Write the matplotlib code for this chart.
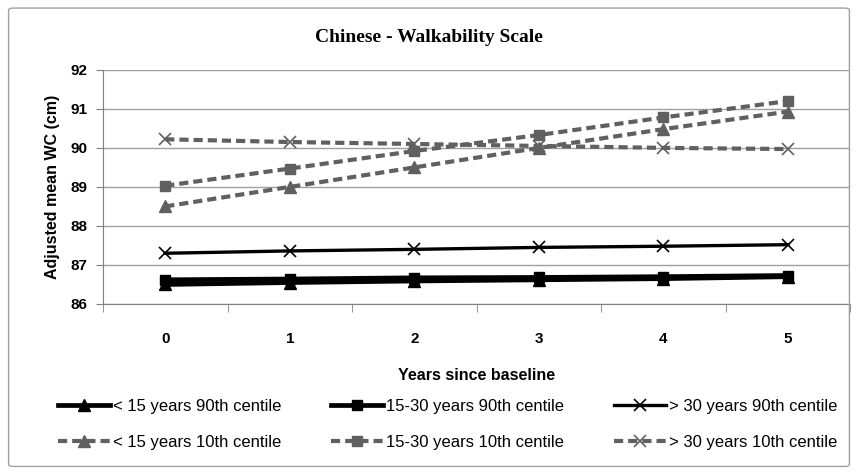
import matplotlib
matplotlib.use("Agg")
import matplotlib.pyplot as plt
from matplotlib.patches import FancyBboxPatch

years = [0, 1, 2, 3, 4, 5]
labels = ["< 15 years 90th centile", "15-30 years 90th centile", "> 30 years 90th centile",
          "< 15 years 10th centile", "15-30 years 10th centile", "> 30 years 10th centile"]
lt15_90 = [86.50, 86.55, 86.59, 86.62, 86.65, 86.70]
m1530_90 = [86.62, 86.64, 86.67, 86.68, 86.70, 86.73]
gt30_90 = [87.30, 87.36, 87.40, 87.45, 87.48, 87.52]
lt15_10 = [88.50, 89.00, 89.50, 90.00, 90.48, 90.93]
m1530_10 = [89.03, 89.47, 89.92, 90.33, 90.78, 91.20]
gt30_10 = [90.22, 90.15, 90.10, 90.05, 90.00, 89.97]
series = [lt15_90, m1530_90, gt30_90, lt15_10, m1530_10, gt30_10]

fig = plt.figure(figsize=(8.58, 4.75), dpi=100)
fig.patches.append(FancyBboxPatch((0.010, 0.018), 0.980, 0.965, boxstyle="round,pad=0,rounding_size=0.005",
                                  transform=fig.transFigure, fill=False, edgecolor="#a0a0a0", lw=1.0))
ax = fig.add_axes([0.120, 0.360, 0.871, 0.493])

black = "#000000"
grey = "#606060"
styles = [
    dict(color=black, ls="-", marker="^", ms=8, lw=3.4),
    dict(color=black, ls="-", marker="s", ms=7, lw=3.4),
    dict(color=black, ls="-", marker="x", ms=9, lw=2.4, mew=1.2),
    dict(color=grey, ls=(0, (2.2, 1.2)), marker="^", ms=8, lw=3.0),
    dict(color=grey, ls=(0, (2.2, 1.2)), marker="s", ms=7, lw=3.0),
    dict(color=grey, ls=(0, (2.2, 1.2)), marker="x", ms=9, lw=3.0, mew=1.2),
]
handles = []
for s, lab, st in zip(series, labels, styles):
    h, = ax.plot(years, s, label=lab, zorder=3, **st)
    handles.append(h)

ax.set_xlim(-0.5, 5.5)
ax.set_ylim(86, 92)
ax.set_yticks([86, 87, 88, 89, 90, 91, 92])
ax.yaxis.grid(True, color="#a0a0a0", lw=1.0)
ax.set_axisbelow(True)
ax.set_xticks(years)
ax.set_xticks([x - 0.5 for x in range(7)], minor=True)
ax.tick_params(axis="x", which="major", length=0, pad=20)
ax.tick_params(axis="x", which="minor", length=6, color="#808080", direction="out")
ax.tick_params(axis="y", length=5, color="#808080", pad=6)
for sp in ["top", "right"]:
    ax.spines[sp].set_visible(False)
for sp in ["left", "bottom"]:
    ax.spines[sp].set_color("#808080")
tickfont = dict(family="Liberation Sans", weight="bold", size=11)
for t in ax.get_xticklabels() + ax.get_yticklabels():
    t.set_fontproperties(matplotlib.font_manager.FontProperties(**tickfont))
ax.set_xlabel("Years since baseline", family="Liberation Sans", weight="bold", size=11.5, labelpad=16)
ax.set_ylabel("Adjusted mean WC (cm)", family="Liberation Sans", weight="bold", size=11.5, labelpad=8)
fig.text(0.50, 0.922, "Chinese - Walkability Scale", ha="center", va="center",
         family="Liberation Serif", weight="bold", size=14)

order = [0, 3, 1, 4, 2, 5]
leg = fig.legend([handles[i] for i in order], [labels[i] for i in order], ncol=3,
                 loc="center", bbox_to_anchor=(0.522, 0.106), frameon=False,
                 prop=dict(family="Liberation Sans", size=12), handlelength=3.1,
                 columnspacing=3.0, labelspacing=1.25, handletextpad=0.2)
fig.savefig("out.png", dpi=100)
